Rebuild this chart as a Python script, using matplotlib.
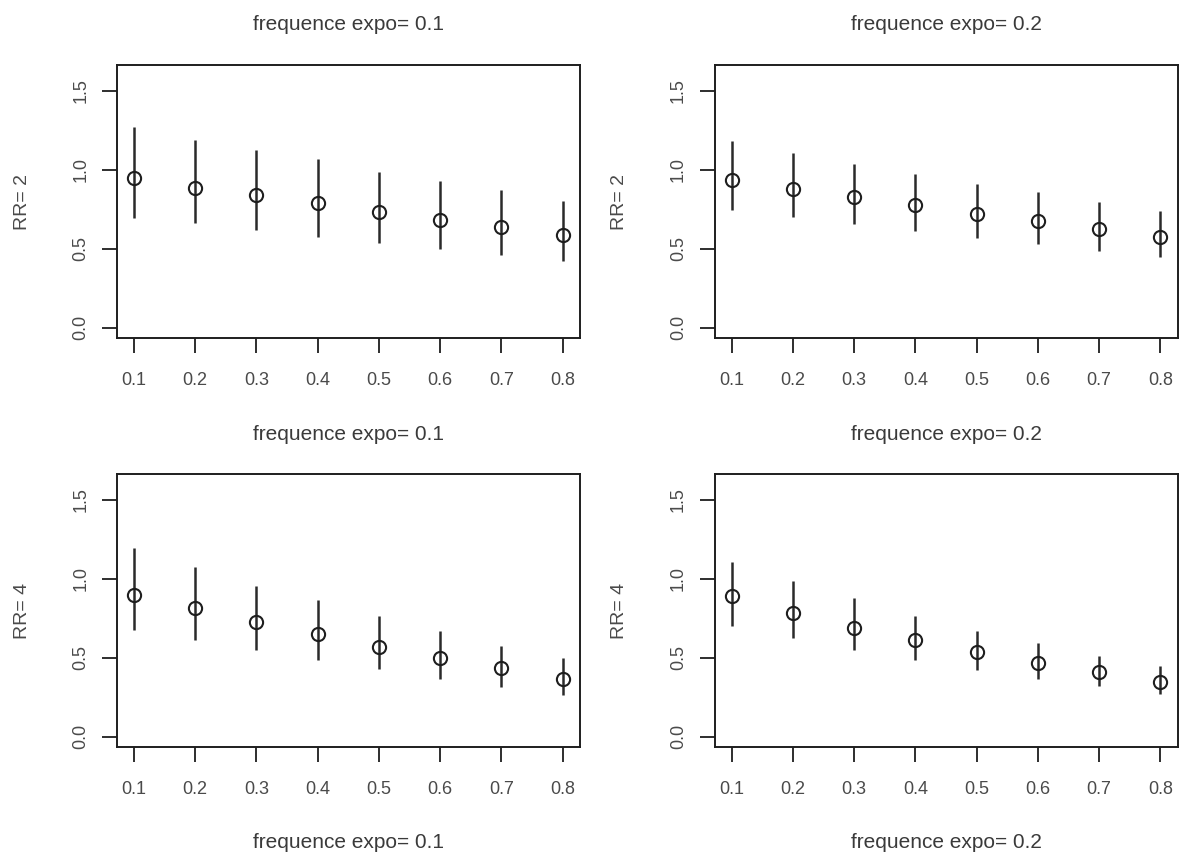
"""
RR estimé par fréquence d'exposition : 2x2 panneaux (RR=2/4 x freq expo 0.1/0.2).
Point = estimation, trait vertical = intervalle.
"""
import matplotlib

matplotlib.use("Agg")
import matplotlib.pyplot as plt  # noqa: E402

plt.rcParams["font.family"] = ["Liberation Sans", "DejaVu Sans"]

# axe x commun
X = [0.1, 0.2, 0.3, 0.4, 0.5, 0.6, 0.7, 0.8]
X_LABELS = ["0.1", "0.2", "0.3", "0.4", "0.5", "0.6", "0.7", "0.8"]
Y_TICKS = [0.0, 0.5, 1.0, 1.5]
Y_LABELS = ["0.0", "0.5", "1.0", "1.5"]

# RR = 2, frequence expo = 0.1
rr2_f01_est = [0.949, 0.886, 0.843, 0.792, 0.731, 0.682, 0.638, 0.585]
rr2_f01_lo = [0.697, 0.663, 0.621, 0.574, 0.538, 0.500, 0.464, 0.426]
rr2_f01_hi = [1.273, 1.189, 1.125, 1.072, 0.987, 0.930, 0.875, 0.803]

# RR = 2, frequence expo = 0.2
rr2_f02_est = [0.939, 0.879, 0.828, 0.778, 0.720, 0.676, 0.625, 0.578]
rr2_f02_lo = [0.744, 0.701, 0.659, 0.612, 0.566, 0.528, 0.489, 0.451]
rr2_f02_hi = [1.182, 1.108, 1.040, 0.972, 0.913, 0.858, 0.797, 0.737]

# RR = 4, frequence expo = 0.1
rr4_f01_est = [0.900, 0.815, 0.729, 0.649, 0.569, 0.499, 0.434, 0.367]
rr4_f01_lo = [0.678, 0.611, 0.548, 0.489, 0.430, 0.367, 0.316, 0.265]
rr4_f01_hi = [1.194, 1.074, 0.956, 0.868, 0.763, 0.672, 0.573, 0.497]

# RR = 4, frequence expo = 0.2
rr4_f02_est = [0.889, 0.784, 0.691, 0.615, 0.535, 0.468, 0.409, 0.350]
rr4_f02_lo = [0.704, 0.626, 0.552, 0.489, 0.426, 0.367, 0.320, 0.274]
rr4_f02_hi = [1.110, 0.984, 0.876, 0.767, 0.672, 0.594, 0.514, 0.447]

PANELS = [
    # (ligne, colonne, RR, freq, est, lo, hi)
    (0, 0, "2", "0.1", rr2_f01_est, rr2_f01_lo, rr2_f01_hi),
    (0, 1, "2", "0.2", rr2_f02_est, rr2_f02_lo, rr2_f02_hi),
    (1, 0, "4", "0.1", rr4_f01_est, rr4_f01_lo, rr4_f01_hi),
    (1, 1, "4", "0.2", rr4_f02_est, rr4_f02_lo, rr4_f02_hi),
]

W, H = 1181, 856
COL_X = [116.7, 714.5]   # bord gauche du cadre (px)
ROW_Y = [65, 474]        # bord haut du cadre (px)
BOX_W, BOX_H = 463, 273

INK = "#1e1e1e"
TXT = "#4a4a4a"


def draw_panel(fig, row, col, rr, freq, est, lo, hi):
    left = COL_X[col] / W
    bottom = 1 - (ROW_Y[row] + BOX_H) / H
    ax = fig.add_axes([left, bottom, BOX_W / W, BOX_H / H])

    ax.vlines(X, lo, hi, color="#2a2a2a", lw=1.8, zorder=2)
    ax.plot(X, est, "o", ms=9.5, mfc="none", mec=INK, mew=1.5, zorder=3)

    ax.set_xlim(0.072, 0.828)   # style R : +4 % de chaque côté
    ax.set_ylim(-0.064, 1.664)
    ax.set_xticks(X)
    ax.set_xticklabels(X_LABELS)
    ax.set_yticks(Y_TICKS)
    ax.set_yticklabels(Y_LABELS, rotation=90, va="center")

    for s in ax.spines.values():
        s.set_color(INK)
        s.set_linewidth(1.4)
    ax.tick_params(direction="out", length=10.8, width=1.3, color=INK,
                   labelsize=13, labelcolor=TXT)
    ax.tick_params(axis="x", pad=14)
    ax.tick_params(axis="y", pad=9)

    ax.set_ylabel("RR= " + rr, fontsize=14, color=TXT, va="center")
    ax.yaxis.set_label_coords(-0.2045, 0.5)

    # titre au-dessus du cadre (40 px)
    ax.set_title("frequence expo= " + freq, fontsize=15, color="#3a3a3a",
                 y=1 + 40 / BOX_H, pad=0, va="center")
    if row == 1:
        ax.set_xlabel("frequence expo= " + freq, fontsize=15, color="#3a3a3a",
                      va="center")
        ax.xaxis.set_label_coords(0.5, -96 / BOX_H)
    return ax


def main():
    fig = plt.figure(figsize=(W / 100, H / 100), dpi=100)
    for row, col, rr, freq, est, lo, hi in PANELS:
        draw_panel(fig, row, col, rr, freq, est, lo, hi)
    fig.savefig("out.png", dpi=100)
    plt.close(fig)


if __name__ == "__main__":
    main()
